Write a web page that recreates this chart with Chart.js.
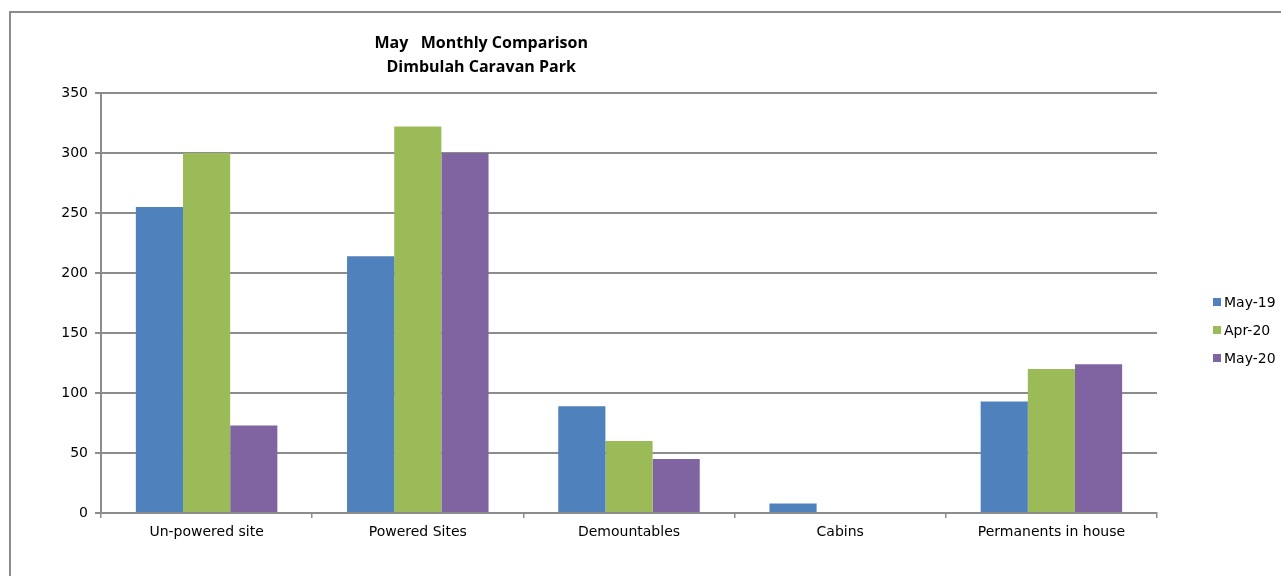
<!DOCTYPE html>
<html>
<head>
<meta charset="utf-8">
<script src="https://cdn.jsdelivr.net/npm/chart.js@4.4.1/dist/chart.umd.min.js"></script>
<style>
  html, body { margin: 0; padding: 0; background: #fff; }
  #wrap { position: relative; width: 1281px; height: 576px; }
</style>
</head>
<body>
<div id="wrap"><canvas id="c"></canvas></div>
<script>
/* May monthly comparison — Dimbulah Caravan Park occupancy */
const CATEGORIES = ["Un-powered site", "Powered Sites", "Demountables", "Cabins", "Permanents in house"];
const MAY_19 = [255, 214, 89, 8, 93];
const APR_20 = [300, 322, 60, 0, 120];
const MAY_20 = [73, 300, 45, 0, 124];
const SERIES = ["May-19", "Apr-20", "May-20"];
const COLORS = ["#4f81bd", "#9bbb59", "#8064a2"];
const TITLE = ["May   Monthly Comparison", "Dimbulah Caravan Park"];
const Y_MAX = 350, Y_STEP = 50;

const GRID = "#8c8c8c";
const FONT = "'DejaVu Sans', Arial, sans-serif";

// outer frame + two-line title
const framePlugin = {
  id: "frame",
  beforeDraw(ch) {
    const ctx = ch.ctx;
    ctx.save();
    ctx.strokeStyle = GRID;
    ctx.lineWidth = 2;
    ctx.strokeRect(10, 12, 1400, 700);
    ctx.restore();
  },
  afterDraw(ch) {
    const ctx = ch.ctx, a = ch.chartArea;
    ctx.save();
    ctx.fillStyle = "#000";
    ctx.font = "bold 16px 'Open Sans', Lato, sans-serif";
    ctx.textAlign = "center";
    ctx.textBaseline = "middle";
    const cx = a.left + (a.right - a.left) * 0.36;
    TITLE.forEach((t, i) => ctx.fillText(t, cx, 43 + i * 24));
    ctx.restore();
  }
};

// legend at right, square markers
const legendPlugin = {
  id: "sideLegend",
  afterDraw(ch) {
    const ctx = ch.ctx, a = ch.chartArea;
    const x = a.right + 56, y0 = (a.top + a.bottom) / 2 - 1;
    ctx.save();
    ctx.font = "14px " + FONT;
    ctx.textBaseline = "middle";
    ch.data.datasets.forEach((ds, i) => {
      const y = y0 + i * 28;
      ctx.fillStyle = ds.backgroundColor;
      ctx.fillRect(x, y - 4, 8, 8);
      ctx.fillStyle = "#000";
      ctx.fillText(ds.label, x + 11, y + 1);
    });
    ctx.restore();
  }
};

new Chart(document.getElementById("c"), {
  type: "bar",
  data: {
    labels: CATEGORIES,
    datasets: [MAY_19, APR_20, MAY_20].map((d, i) => ({
      label: SERIES[i], data: d, backgroundColor: COLORS[i],
      categoryPercentage: 0.67, barPercentage: 1.0, borderWidth: 0
    }))
  },
  options: {
    responsive: true, maintainAspectRatio: false, animation: false,
    layout: { padding: { top: 93, right: 124, bottom: 0, left: 0 } },
    plugins: { legend: { display: false }, tooltip: { enabled: false } },
    scales: {
      x: {
        afterFit: (s) => { s.height = 63; },
        grid: { drawOnChartArea: false, drawTicks: true, tickLength: 5, color: GRID, lineWidth: 1.5, offset: true },
        border: { color: GRID, width: 2 },
        ticks: { color: "#000", font: { family: FONT, size: 14 }, padding: 6, maxRotation: 0 }
      },
      y: {
        min: 0, max: Y_MAX,
        afterFit: (s) => { s.width = 101; },
        grid: { color: GRID, lineWidth: 2, drawTicks: true, tickLength: 6 },
        border: { color: GRID, width: 2 },
        ticks: { stepSize: Y_STEP, color: "#000", font: { family: FONT, size: 14 }, padding: 7 }
      }
    }
  },
  plugins: [framePlugin, legendPlugin]
});
</script>
</body>
</html>
